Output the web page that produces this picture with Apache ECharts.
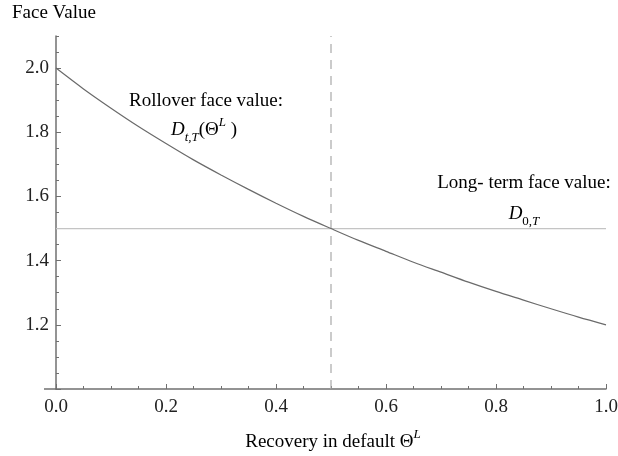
<!DOCTYPE html>
<html>
<head>
<meta charset="utf-8">
<script src="https://cdn.jsdelivr.net/npm/echarts@6/dist/echarts.min.js"></script>
<style>
  html, body { margin: 0; padding: 0; background: #fff; }
  #chart { width: 618px; height: 456px; }
</style>
</head>
<body>
<div id="chart"></div>
<script>
// recovery in default (x) and rollover face value
const recovery = [0, 0.05, 0.1, 0.15, 0.2, 0.25, 0.3, 0.35, 0.4, 0.45, 0.5,
  0.55, 0.6, 0.65, 0.7, 0.75, 0.8, 0.85, 0.9, 0.95, 1.0]
const rolloverValue = [2.0, 1.935, 1.875, 1.818, 1.765, 1.714, 1.667, 1.622, 1.579, 1.538, 1.5,
  1.463, 1.429, 1.395, 1.364, 1.333, 1.304, 1.277, 1.25, 1.224, 1.2]
const longTermX = [0, 1]
const longTermValue = [1.5, 1.5]
const cutoffX = [0.5, 0.5]
const cutoffY = [1.0, 2.1]

const yMajorTicks = [1.0, 1.2, 1.4, 1.6, 1.8, 2.0]
const yLabels = [1.2, 1.4, 1.6, 1.8, 2.0]
const yMinorTicks = [1.05, 1.1, 1.15, 1.25, 1.3, 1.35, 1.45, 1.5, 1.55, 1.65, 1.7, 1.75,
  1.85, 1.9, 1.95, 2.05, 2.1]

const serif = '"Liberation Serif", "DejaVu Serif", serif'
const textColor = '#222'
const axisColor = '#707070'

const chart = echarts.init(document.getElementById('chart'))

const zip = (xs, ys) => xs.map((x, i) => [x, ys[i]])

const option = {
  backgroundColor: '#fff',
  animation: false,
  grid: { left: 56, right: 12, top: 36, bottom: 67, outerBoundsMode: 'none' },
  xAxis: {
    type: 'value',
    min: 0,
    max: 1,
    interval: 0.2,
    axisLine: { show: true, onZero: false, lineStyle: { color: axisColor, width: 1.5 } },
    axisTick: { show: true, inside: true, length: 5, lineStyle: { color: axisColor } },
    minorTick: { show: true, splitNumber: 4, length: 3, lineStyle: { color: axisColor } },
    splitLine: { show: false },
    axisLabel: {
      margin: 9,
      fontFamily: serif,
      fontSize: 19,
      color: textColor,
      formatter: (v) => v.toFixed(1),
    },
  },
  yAxis: [
    {
      type: 'value',
      min: 1.0,
      max: 2.1,
      axisLine: { show: true, onZero: false, lineStyle: { color: axisColor, width: 1.5 } },
      axisTick: { show: true, inside: true, length: 5, customValues: yMajorTicks, lineStyle: { color: axisColor } },
      splitLine: { show: false },
      axisLabel: {
        margin: 7,
        fontFamily: serif,
        fontSize: 19,
        color: textColor,
        customValues: yLabels,
        formatter: (v) => v.toFixed(1),
      },
    },
    {
      type: 'value',
      position: 'left',
      min: 1.0,
      max: 2.1,
      axisLine: { show: false },
      axisTick: { show: true, inside: true, length: 3, customValues: yMinorTicks, lineStyle: { color: axisColor } },
      splitLine: { show: false },
      axisLabel: { show: false },
    },
  ],
  series: [
    {
      name: 'long-term',
      type: 'line',
      data: zip(longTermX, longTermValue),
      showSymbol: false,
      lineStyle: { color: '#c4c4c4', width: 1.3 },
    },
    {
      name: 'cutoff',
      type: 'line',
      data: zip(cutoffX, cutoffY),
      showSymbol: false,
      lineStyle: { color: '#a8a8a8', width: 1.2, type: [9, 7] },
    },
    {
      name: 'rollover',
      type: 'line',
      data: zip(recovery, rolloverValue),
      showSymbol: false,
      smooth: 0.3,
      lineStyle: { color: '#6a6a6a', width: 1.2 },
    },
  ],
}

chart.setOption(option)

const rich = {
  n: { fontFamily: serif, fontSize: 19, color: textColor, lineHeight: 28, verticalAlign: 'middle' },
  i: { fontFamily: serif, fontSize: 19, fontStyle: 'italic', color: textColor, lineHeight: 28, verticalAlign: 'middle' },
  sub: { fontFamily: serif, fontSize: 13, fontStyle: 'italic', color: textColor, lineHeight: 28, verticalAlign: 'bottom' },
  subn: { fontFamily: serif, fontSize: 13, color: textColor, lineHeight: 28, verticalAlign: 'bottom' },
  sup: { fontFamily: serif, fontSize: 13, fontStyle: 'italic', color: textColor, lineHeight: 28, verticalAlign: 'top' },
}

// axis origin, used to extend the x axis a little to the left like the original
const origin = chart.convertToPixel({ xAxisIndex: 0, yAxisIndex: 0 }, [0, 1.0])

const label = (x, y, text, align) => ({
  type: 'text',
  x: x,
  y: y,
  style: { text: text, rich: rich, align: align || 'center', verticalAlign: 'middle' },
})

chart.setOption({
  graphic: [
    {
      type: 'line',
      shape: { x1: origin[0] - 12, y1: origin[1], x2: origin[0], y2: origin[1] },
      style: { stroke: axisColor, lineWidth: 1.5 },
    },
    label(12, 13, '{n|Face Value}', 'left'),
    label(333, 442, '{n|Recovery in default Θ}{sup|L}'),
    label(206, 101, '{n|Rollover face value:}'),
    label(204, 130, '{i|D}{sub|t,T}{n|(Θ}{sup|L}{n| )}'),
    label(524, 183, '{n|Long- term face value:}'),
    label(524, 214, '{i|D}{subn|0,}{sub|T}'),
  ],
})
</script>
</body>
</html>
